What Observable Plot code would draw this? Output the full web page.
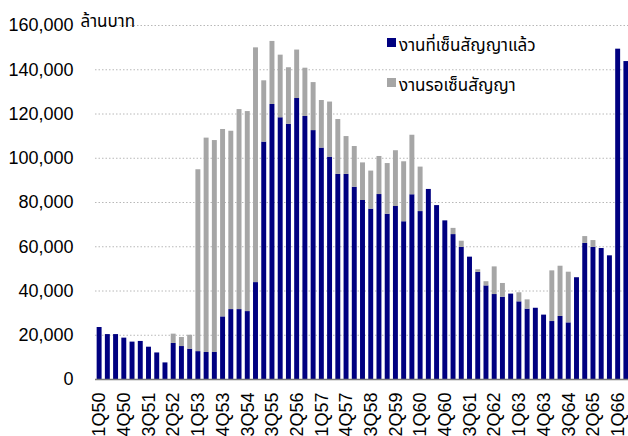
<!DOCTYPE html>
<html><head><meta charset="utf-8">
<script src="https://cdn.jsdelivr.net/npm/d3@7"></script>
<script src="https://cdn.jsdelivr.net/npm/@observablehq/plot@0.6"></script>
<style>
body{margin:0;background:#fff;overflow:hidden}
#wrap{position:relative;width:628px;height:436px}
.legend{position:absolute;left:387px;top:26px;font-family:"Noto Sans Thai",Tahoma,"DejaVu Sans","Liberation Sans",sans-serif;font-size:17px;color:#000}
.legend .item{display:flex;align-items:center;height:40px;line-height:1}
.legend .sw{width:9px;height:9px;margin-right:3px;margin-top:-8px}
</style></head>
<body><div id="wrap"></div>
<script>
const quarters = ["1Q50","2Q50","3Q50","4Q50","1Q51","2Q51","3Q51","4Q51","1Q52","2Q52","3Q52","4Q52",
"1Q53","2Q53","3Q53","4Q53","1Q54","2Q54","3Q54","4Q54","1Q55","3Q55","4Q55","1Q56","2Q56","3Q56","4Q56",
"1Q57","2Q57","3Q57","4Q57","1Q58","2Q58","3Q58","4Q58","1Q59","2Q59","3Q59","4Q59","1Q60","2Q60","3Q60","4Q60",
"1Q61","2Q61","3Q61","4Q61","1Q62","2Q62","3Q62","4Q62","1Q63","2Q63","3Q63","4Q63","1Q64","2Q64","3Q64","4Q64",
"1Q65","2Q65","3Q65","4Q65","1Q66","2Q66"];
const signed = [23500,20300,20300,18700,16900,17200,14600,12000,7500,16300,14900,13700,
12600,12200,12200,28300,31600,31600,30700,43800,107300,124300,118300,115300,127000,118900,112500,
104600,100500,92700,92700,86900,80900,77000,83600,74700,78200,71300,83500,75900,85900,78600,71700,
65500,59700,55300,48400,42300,38400,37200,38600,35100,31800,32200,29100,26200,28500,25600,46000,
61500,59700,59200,55900,149300,143700];
const pending = [0,0,0,0,0,0,0,0,0,4200,4100,6300,
82200,96900,95800,84700,80600,90400,90400,106100,27700,28500,28300,25600,21900,21800,21700,
21500,24900,24800,17100,18400,17000,17200,17200,22900,25200,27100,26900,20100,0,0,0,
2800,2800,0,1200,1900,12500,6200,0,4100,4200,0,0,22900,22700,22900,0,
3100,3100,0,0,0,0];
const tickLabels = ["1Q50","4Q50","3Q51","2Q52","1Q53","4Q53","3Q54","3Q55","2Q56","1Q57","4Q57","3Q58",
"2Q59","1Q60","4Q60","3Q61","2Q62","1Q63","4Q63","3Q64","2Q65","1Q66"];
const seriesNames = ["งานที่เซ็นสัญญาแล้ว","งานรอเซ็นสัญญา"];
const seriesColors = ["#000080","#a6a6a6"];
const unitLabel = "ล้านบาท";
const yTicks = [0,20000,40000,60000,80000,100000,120000,140000,160000];

const rows = [];
quarters.forEach((q,i)=>{
  rows.push({q, s: seriesNames[0], v: signed[i]});
  rows.push({q, s: seriesNames[1], v: pending[i]});
});

const font = '"Liberation Sans", Arial, sans-serif';
const chart = Plot.plot({
  width: 628, height: 436,
  marginLeft: 95, marginRight: -2, marginTop: 25, marginBottom: 57,
  style: {fontFamily: font, fontSize: "18px", color: "#000", background: "#fff"},
  x: {domain: quarters, paddingInner: 0.4, paddingOuter: 0.2, round: false, label: null},
  y: {domain: [0,160000], label: null},
  color: {domain: seriesNames, range: seriesColors},
  marks: [
    Plot.gridY(yTicks, {stroke: "#b8b8b8", strokeOpacity: 1, strokeDasharray: "1.5,2"}),
    Plot.barY(rows, {x: "q", y: "v", fill: "s"}),
    Plot.ruleY([0], {stroke: "#7a7a7a", strokeWidth: 1.5}),
    Plot.axisY(yTicks, {tickSize: 0, tickPadding: 22, tickFormat: d3.format(","), label: null, fontSize: 18}),
    Plot.axisX(tickLabels, {tickSize: 0, tickPadding: 13, tickRotate: -90, label: null, fontSize: 18}),
    Plot.text([unitLabel], {frameAnchor: "top-left", dx: -15, dy: -11, textAnchor: "start",
      fontFamily: '"Noto Sans Thai", Tahoma, "DejaVu Sans", sans-serif', fontSize: 17})
  ]
});
const wrap = document.getElementById("wrap");
wrap.appendChild(chart);
const lg = document.createElement("div");
lg.className = "legend";
seriesNames.forEach((n,i)=>{
  const it = document.createElement("div"); it.className = "item";
  const sw = document.createElement("span"); sw.className = "sw"; sw.style.background = seriesColors[i];
  const tx = document.createElement("span"); tx.textContent = n;
  it.appendChild(sw); it.appendChild(tx); lg.appendChild(it);
});
wrap.appendChild(lg);
</script></body></html>
